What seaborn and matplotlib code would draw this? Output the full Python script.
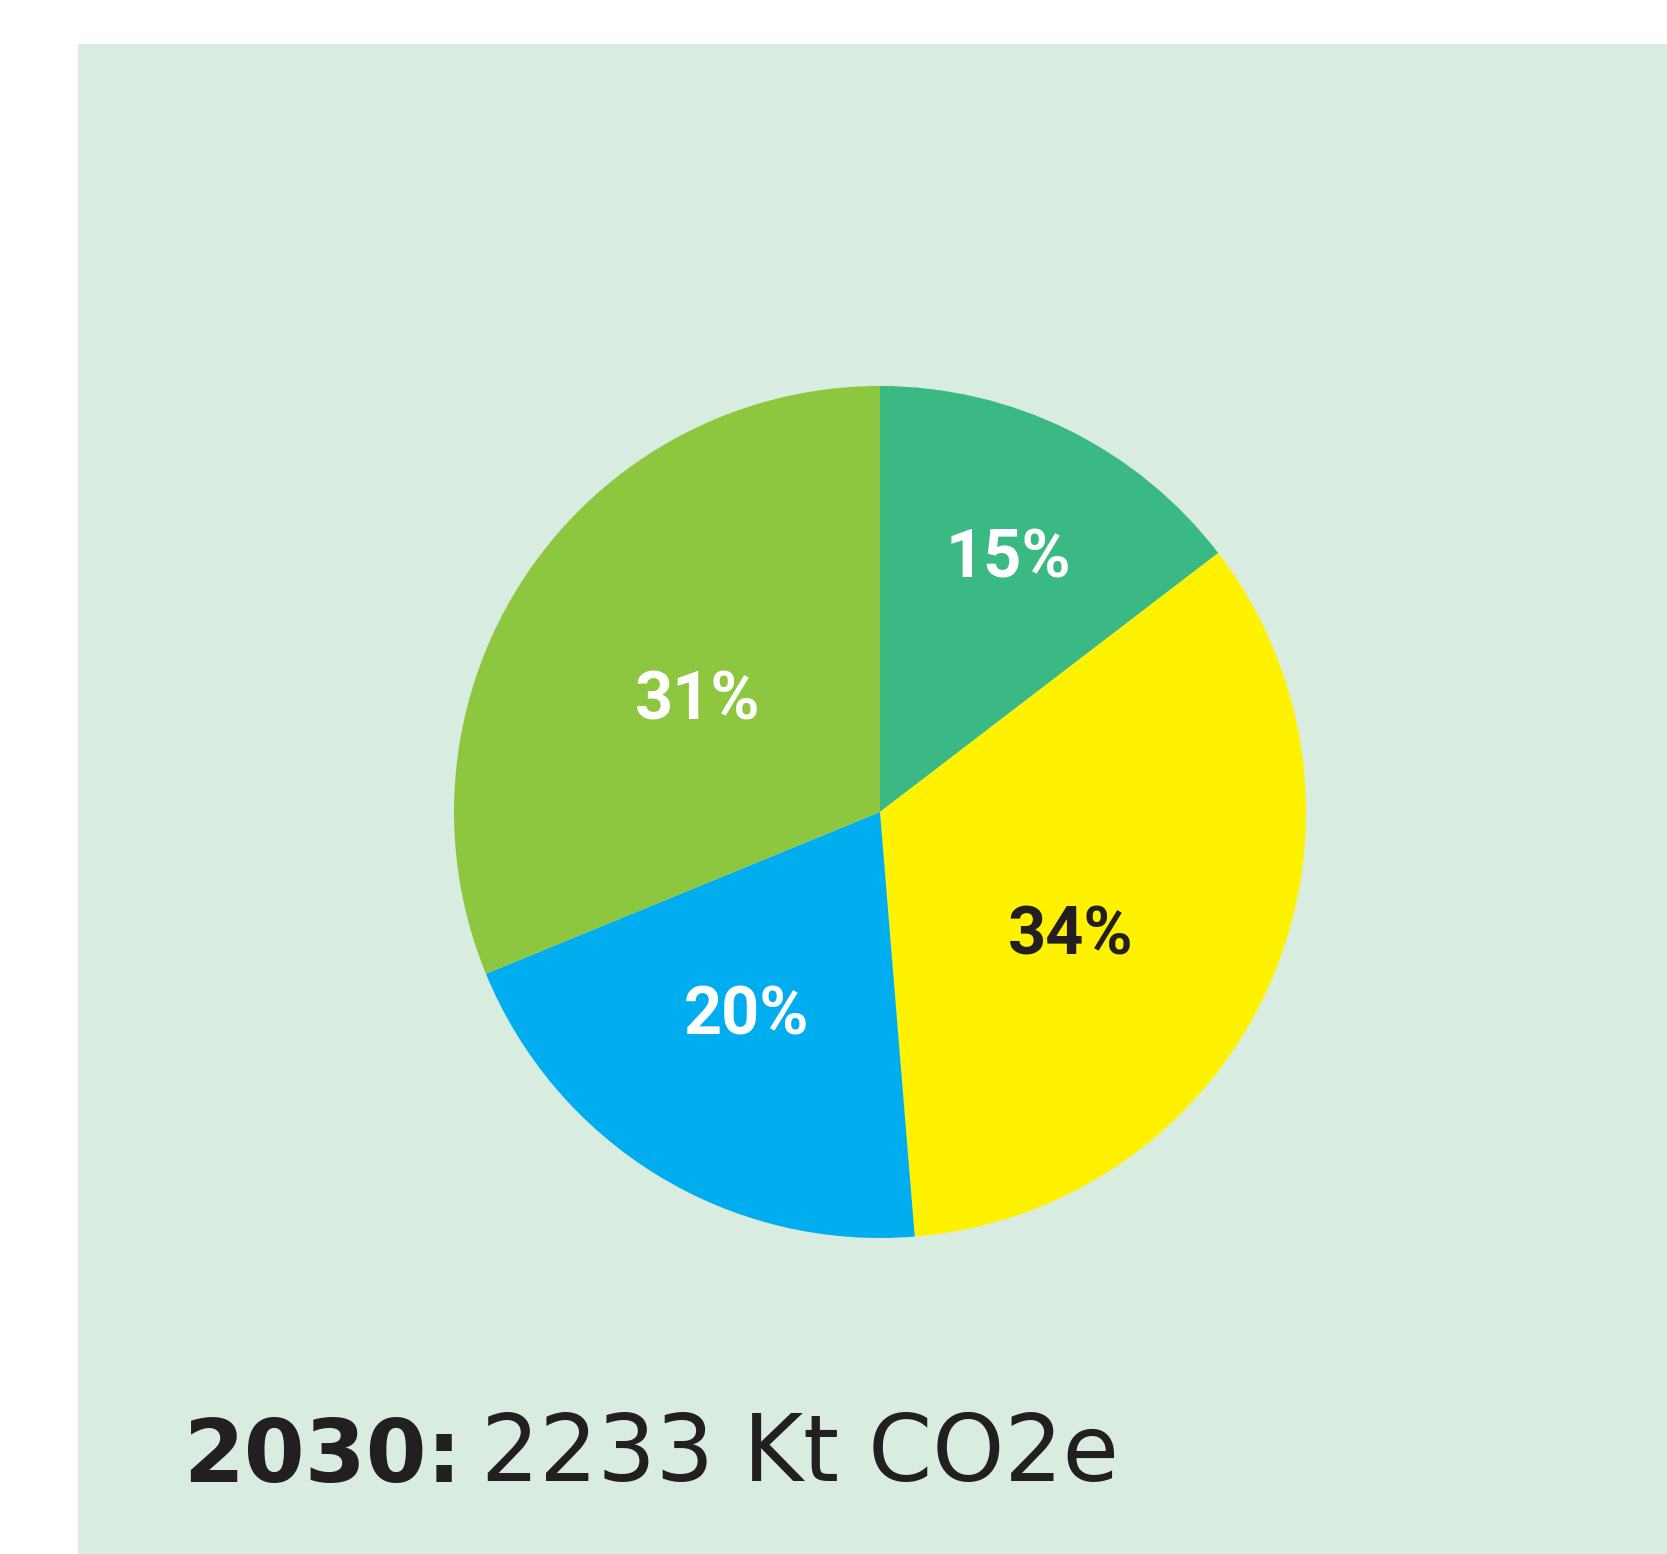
import numpy as np
import matplotlib
matplotlib.use("Agg")
import matplotlib.pyplot as plt
import matplotlib.transforms as mtransforms
from matplotlib.text import Annotation
import seaborn as sns
from matplotlib.patches import Rectangle

# ---- data ----
categories = ["A", "B", "C", "D"]
shares = [14.6, 34.1, 20.1, 31.2]
labels = ["15%", "34%", "20%", "31%"]
year_label = "2030:"
total_label = "2233 Kt CO2e"

# ---- style ----
colors = ["#3BB985", "#FFF200", "#00AEEF", "#8DC63F"]
label_colors = ["white", "#231F20", "white", "white"]
label_r = [0.678, 0.527, 0.562, 0.509]
label_dang = [0.0, -7.8, -2.4, 1.3]
panel_color = "#D9ECE0"
text_dark = "#231F20"

sns.set_theme(style="white")
plt.rcParams["font.family"] = ["DejaVu Sans"]

W, H, DPI = 1667, 1554, 100
fig = plt.figure(figsize=(W / DPI, H / DPI), dpi=DPI)
fig.patch.set_facecolor("white")
fig.patches.append(Rectangle((78 / W, 0), 1 - 78 / W, (H - 44) / H,
                             transform=fig.transFigure, facecolor=panel_color,
                             edgecolor="none", zorder=-5))

cx, cy, r = 880, 812, 426
ax = fig.add_axes([(cx - r) / W, (H - cy - r) / H, 2 * r / W, 2 * r / H])
ax.set_facecolor("none")
wedges, _ = ax.pie(shares, colors=colors, startangle=90, counterclock=False,
                   radius=1, wedgeprops=dict(linewidth=0))
ax.set_xlim(-1, 1)
ax.set_ylim(-1, 1)
ax.set_aspect("equal")
ax.axis("off")

cap_px = 48
lab_tr = mtransforms.offset_copy(ax.transData, fig=fig, x=0, y=-cap_px / 2, units="dots")
for w, lab, lc, rr, da in zip(wedges, labels, label_colors, label_r, label_dang):
    ang = np.deg2rad((w.theta1 + w.theta2) / 2 + da)
    ax.text(rr * np.cos(ang), rr * np.sin(ang), lab, ha="center", va="baseline",
            color=lc, fontsize=48, fontweight="bold", family="Roboto",
            transform=lab_tr)

t1 = fig.text(183 / W, (H - 1482) / H, year_label, fontsize=63, fontweight="bold",
              color=text_dark, ha="left", va="baseline")
fig.add_artist(Annotation(
    total_label, xy=(1, 0), xycoords=t1, xytext=(14, 0),
    textcoords="offset points", fontsize=66, color=text_dark,
    ha="left", va="bottom"))

fig.savefig("out.png", dpi=DPI)
